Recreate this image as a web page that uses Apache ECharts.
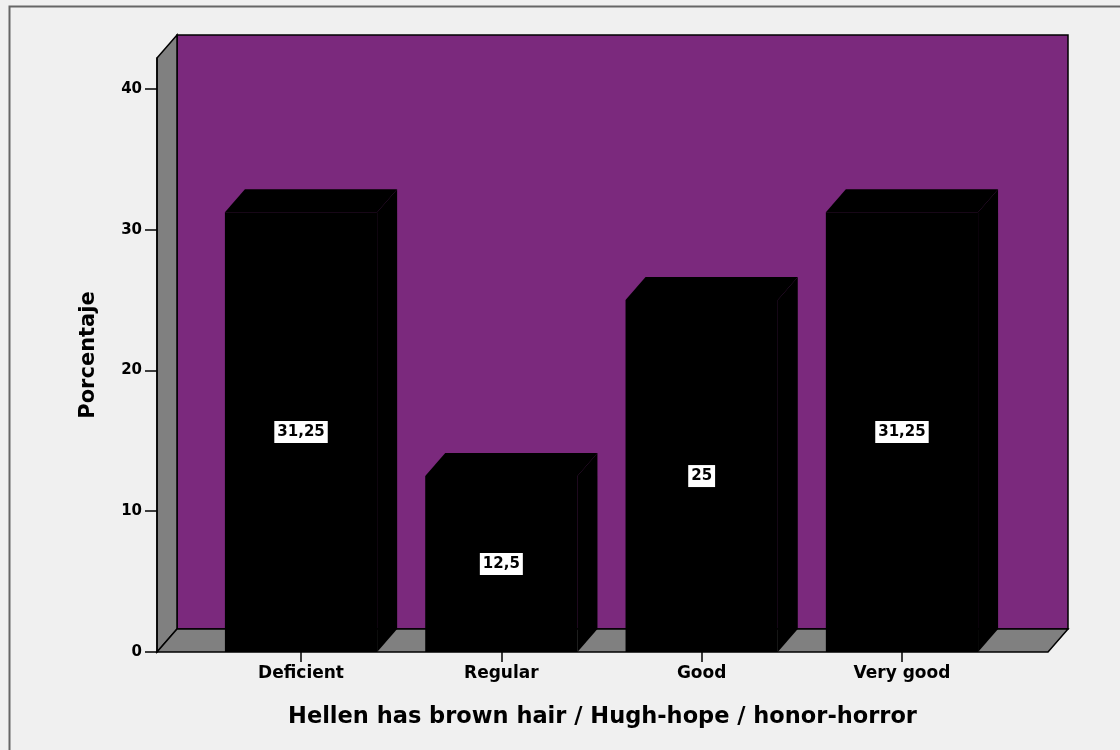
<!DOCTYPE html>
<html>
<head>
<meta charset="utf-8">
<script src="https://cdn.jsdelivr.net/npm/echarts@6/dist/echarts.min.js"></script>
<style>
  html, body { margin: 0; padding: 0; background: #f0f0f0; }
  #chart { width: 1120px; height: 750px; }
</style>
</head>
<body>
<div id="chart"></div>
<script>
var categories = ['Deficient', 'Regular', 'Good', 'Very good'];
var values = [31.25, 12.5, 25, 31.25];
var valueLabels = ['31,25', '12,5', '25', '31,25'];
var yTicks = [0, 10, 20, 30, 40];
var catIndex = [0, 1, 2, 3];

// 3d look
var DX = 20, DY = -23;
var BAR_W = 0.76;
var FONT = '"DejaVu Sans", Verdana, sans-serif';

function renderWalls(params, api) {
	var c = params.coordSys;
	var x = c.x, y = c.y, w = c.width, h = c.height;
	var edge = { stroke: '#000', lineWidth: 1.5 };
	return {
		type: 'group',
		children: [
			{ type: 'rect', shape: { x: x + DX, y: y + DY, width: w, height: h },
				style: Object.assign({ fill: '#7b297d' }, edge) },
			{ type: 'polygon', shape: { points: [[x, y], [x + DX, y + DY], [x + DX, y + h + DY], [x, y + h]] },
				style: Object.assign({ fill: '#808080' }, edge) },
			{ type: 'polygon', shape: { points: [[x, y + h], [x + DX, y + h + DY], [x + w + DX, y + h + DY], [x + w, y + h]] },
				style: Object.assign({ fill: '#808080' }, edge) }
		]
	};
}

function renderBar(params, api) {
	var i = api.value(0), v = api.value(1);
	var a = api.coord([i - BAR_W / 2, 0]);
	var b = api.coord([i + BAR_W / 2, v]);
	var mid = api.coord([i, v / 2]);
	var x0 = a[0], x1 = b[0], yb = a[1], yt = b[1];
	var fill = { fill: '#000' };
	return {
		type: 'group',
		children: [
			{ type: 'polygon', shape: { points: [[x0, yt], [x0 + DX, yt + DY], [x1 + DX, yt + DY], [x1, yt]] }, style: fill },
			{ type: 'polygon', shape: { points: [[x1, yt], [x1 + DX, yt + DY], [x1 + DX, yb + DY], [x1, yb]] }, style: fill },
			{ type: 'rect', shape: { x: x0, y: yt, width: x1 - x0, height: yb - yt }, style: fill },
			{ type: 'text', x: mid[0], y: mid[1],
				style: {
					text: valueLabels[params.dataIndex],
					font: 'bold 15px ' + FONT,
					fill: '#000',
					align: 'center',
					verticalAlign: 'middle',
					backgroundColor: '#fff',
					borderColor: '#000',
					borderWidth: 1,
					padding: [4, 3, 3, 3]
				} }
		]
	};
}

var chart = echarts.init(document.getElementById('chart'));
chart.setOption({
	backgroundColor: '#f0f0f0',
	animation: false,
	grid: { left: 157, right: 72, top: 58, bottom: 98 },
	graphic: [{
		type: 'rect', left: 7, top: 4,
		shape: { width: 1200, height: 800 },
		style: { fill: 'none', stroke: '#666', lineWidth: 2 }
	}],
	xAxis: {
		type: 'value',
		min: -0.719,
		max: 3.729,
		splitLine: { show: false },
		axisLine: { show: false },
		axisTick: { show: true, customValues: catIndex, length: 10, lineStyle: { color: '#000', width: 1.5 } },
		axisLabel: {
			customValues: catIndex,
			formatter: function (v) { return categories[Math.round(v)]; },
			color: '#000', fontFamily: FONT, fontWeight: 'bold', fontSize: 17, margin: 13
		},
		name: 'Hellen has brown hair / Hugh-hope / honor-horror',
		nameLocation: 'middle',
		nameGap: 54,
		nameTextStyle: { color: '#000', fontFamily: FONT, fontWeight: 'bold', fontSize: 22.5 }
	},
	yAxis: {
		type: 'value',
		min: 0,
		max: 42.2,
		z: 10,
		splitLine: { show: false },
		axisLine: { show: true, onZero: false, lineStyle: { color: '#000', width: 1.5 } },
		axisTick: { show: true, customValues: yTicks, length: 12, lineStyle: { color: '#000', width: 1.5 } },
		axisLabel: { customValues: yTicks, color: '#000', fontFamily: FONT, fontWeight: 'bold', fontSize: 15, margin: 15 },
		name: 'Porcentaje',
		nameLocation: 'middle',
		nameGap: 58,
		nameTextStyle: { color: '#000', fontFamily: FONT, fontWeight: 'bold', fontSize: 21 }
	},
	series: [
		{ type: 'custom', silent: true, renderItem: renderWalls, data: [[0, 0]], clip: false, z: 1 },
		{
			type: 'custom', renderItem: renderBar, clip: false, z: 2,
			data: catIndex.map(function (i) { return [i, values[i]]; })
		}
	]
});
</script>
</body>
</html>
